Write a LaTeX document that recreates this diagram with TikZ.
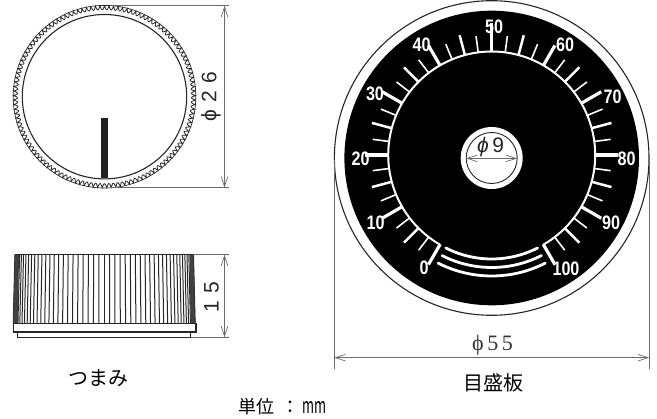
\documentclass[tikz,border=0pt]{standalone}
\usepackage{fontspec}
\usepackage{graphicx}
\setmainfont{Liberation Sans}
\newfontfamily\jpfont{Noto Sans CJK JP}
\newfontfamily\serfont{Liberation Serif}
\usetikzlibrary{arrows.meta}
\definecolor{dimgray}{gray}{0.42}
\newcommand{\dn}[1]{\scalebox{.83}[1]{#1}}
\newcommand{\dcx}{491.7}
\newcommand{\dcy}{158}
\newcommand{\scy}{155}
\tikzset{
  dimline/.style={draw=dimgray,line width=1pt},
  dimarrow/.style={dimline,{Straight Barb[length=10pt,width=6.5pt,line width=0.7pt]}-{Straight Barb[length=10pt,width=6.5pt,line width=0.7pt]}},
  outline/.style={draw=black!85,line width=1.1pt},
  dialnum/.style={text=white,font=\bfseries\fontsize{19.5}{20}\selectfont,inner sep=0pt},
  jplabel/.style={font=\jpfont\fontsize{20}{20}\selectfont,inner sep=0pt},
  dimtext/.style={font=\fontsize{21}{21}\selectfont,text=black!85,inner sep=0pt},
  scalearc/.style={draw=white,line cap=round,line width=2.8pt},
}
\begin{document}
\begin{tikzpicture}[x=1pt,y=-1pt]
\useasboundingbox[fill=white] (0,0) rectangle (657,419);
% ---- knob, top view
\coordinate (kc) at (104.5,96.7);
\draw[outline,line width=0.8pt] plot[domain=0:360,samples=1251,variable=\t]
  ({104.5+(91-4*sin(62.5*mod(\t,2.88)))*sin(\t)},{96.7-(91-4*sin(62.5*mod(\t,2.88)))*cos(\t)});
\draw[outline,line width=0.7pt] (kc) circle[radius=91.3pt];
\draw[outline] (kc) circle[radius=82.2pt];
\fill[black!88] (101,118.3) rectangle (107.7,178.3);
% dimension phi 26
\coordinate (d1a) at (224.5,5.7);
\coordinate (d1b) at (224.5,187.7);
\draw[dimline] (110,5.7) -- (229,5.7);
\draw[dimline] (110,187.7) -- (229,187.7);
\draw[dimarrow] (d1a) -- (d1b);
\node[dimtext,rotate=90] (t26) at (211,96.5) {ϕ\,\,2\,\,6};
% ---- knob, side view
\foreach \i in {-26,...,26}{
  \draw[black!85,line width=1pt]
    ({104.2+89.3*sin(\i*3.4)},254.7) -- ({104.2+91*sin(\i*3.4)},323.3);
}
\fill[black!75] (15,254.7) -- (19,254.7) -- (18,323.3) -- (13.3,323.3) -- cycle;
\fill[black!75] (193.3,254.7) -- (189.5,254.7) -- (190.5,323.3) -- (195,323.3) -- cycle;
\draw[outline] (15,254.7) -- (193.3,254.7);
\draw[outline,fill=white] (13.3,323.3) rectangle (196,332);
\draw[outline,fill=white] (17.7,332) rectangle (190.7,337.3);
% dimension 15
\coordinate (d2a) at (224.5,254.7);
\coordinate (d2b) at (224.5,337.3);
\draw[dimline] (193,254.7) -- (229,254.7);
\draw[dimline] (190.7,337.3) -- (229,337.3);
\draw[dimarrow] (d2a) -- (d2b);
\node[dimtext,rotate=90] (t15) at (211.5,297) {1\,\,5};
\node[jplabel] (tknob) at (98,377.7) {つまみ};
% ---- dial plate
\coordinate (dc) at (\dcx,\dcy);
\draw[outline,fill=white] (dc) circle[radius=157.3pt];
\fill[black] (dc) circle[radius=147.3pt];
\draw[dimline] (334.2,160) -- (334.2,369);
\draw[dimline] (649.2,160) -- (649.2,369);
% scale arc
\draw[draw=white,line width=2pt] plot[domain=-150:150,samples=121,variable=\t]
  ({\dcx+103.5*sin(\t)},{\scy-103.5*cos(\t)});
% ticks
\foreach \i in {0,...,40}{
  \pgfmathsetmacro{\ang}{-150+7.5*\i}
  \pgfmathtruncatemacro{\rfour}{mod(\i,4)}
  \pgfmathtruncatemacro{\rtwo}{mod(\i,2)}
  \ifnum\rfour=0
    \def\tl{126.5}\def\tw{3.2pt}
  \else\ifnum\rtwo=0
    \def\tl{124}\def\tw{2.5pt}
  \else
    \def\tl{120}\def\tw{1.6pt}
  \fi\fi
  \ifnum\i=20 \def\tl{131.5}\fi
  \draw[draw=white,line width=\tw]
    ({\dcx+103*sin(\ang)},{\scy-103*cos(\ang)}) -- ({\dcx+\tl*sin(\ang)},{\scy-\tl*cos(\ang)});
}
% scale numbers
\node[dialnum] (n0) at (424,268) {\dn{0}};
\node[dialnum] (n10) at (375.7,223) {\dn{10}};
\node[dialnum] (n20) at (360.7,159) {\dn{20}};
\node[dialnum] (n30) at (375,94) {\dn{30}};
\node[dialnum] (n40) at (421.7,45) {\dn{40}};
\node[dialnum] (n50) at (494,27) {\dn{50}};
\node[dialnum] (n60) at (565,45) {\dn{60}};
\node[dialnum] (n70) at (612.7,96.7) {\dn{70}};
\node[dialnum] (n80) at (626.7,158.7) {\dn{80}};
\node[dialnum] (n90) at (611,223) {\dn{90}};
\node[dialnum] (n100) at (566,269) {\dn{100}};
% bottom arcs
\foreach \r in {101,109.5,118}{
  \draw[scalearc] plot[domain=-27:27,samples=31,variable=\t]
    ({\dcx+\r*sin(\t)},{\dcy+\r*cos(\t)});
}
% centre hole
\fill[white] (dc) circle[radius=31pt];
\draw[outline,line width=0.9pt] (dc) circle[radius=25.5pt];
\coordinate (d3a) at (466.2,158.4);
\coordinate (d3b) at (517.2,158.4);
\draw[dimarrow] (d3a) -- (d3b);
\node[inner sep=0pt,font=\fontsize{21}{21}\selectfont,text=black!85] (t9) at (490.5,147.5) {\textit{ϕ}\,9};
% dimension phi 55
\coordinate (d4a) at (334.2,357.7);
\coordinate (d4b) at (649.2,357.7);
\draw[dimarrow] (d4a) -- (d4b);
\node[inner sep=0pt,font=\serfont\fontsize{22}{22}\selectfont,text=black!80] (t55) at (492.5,345) {ϕ\,5\,5};
\node[jplabel] (tplate) at (493,382.7) {目盛板};
\node[inner sep=0pt,font=\jpfont\fontsize{18}{18}\selectfont,anchor=west] (tunit) at (238,406.5) {単位\hspace{7pt}：\hspace{3pt}\scalebox{.72}[1.2]{mm}};
\end{tikzpicture}
\end{document}
